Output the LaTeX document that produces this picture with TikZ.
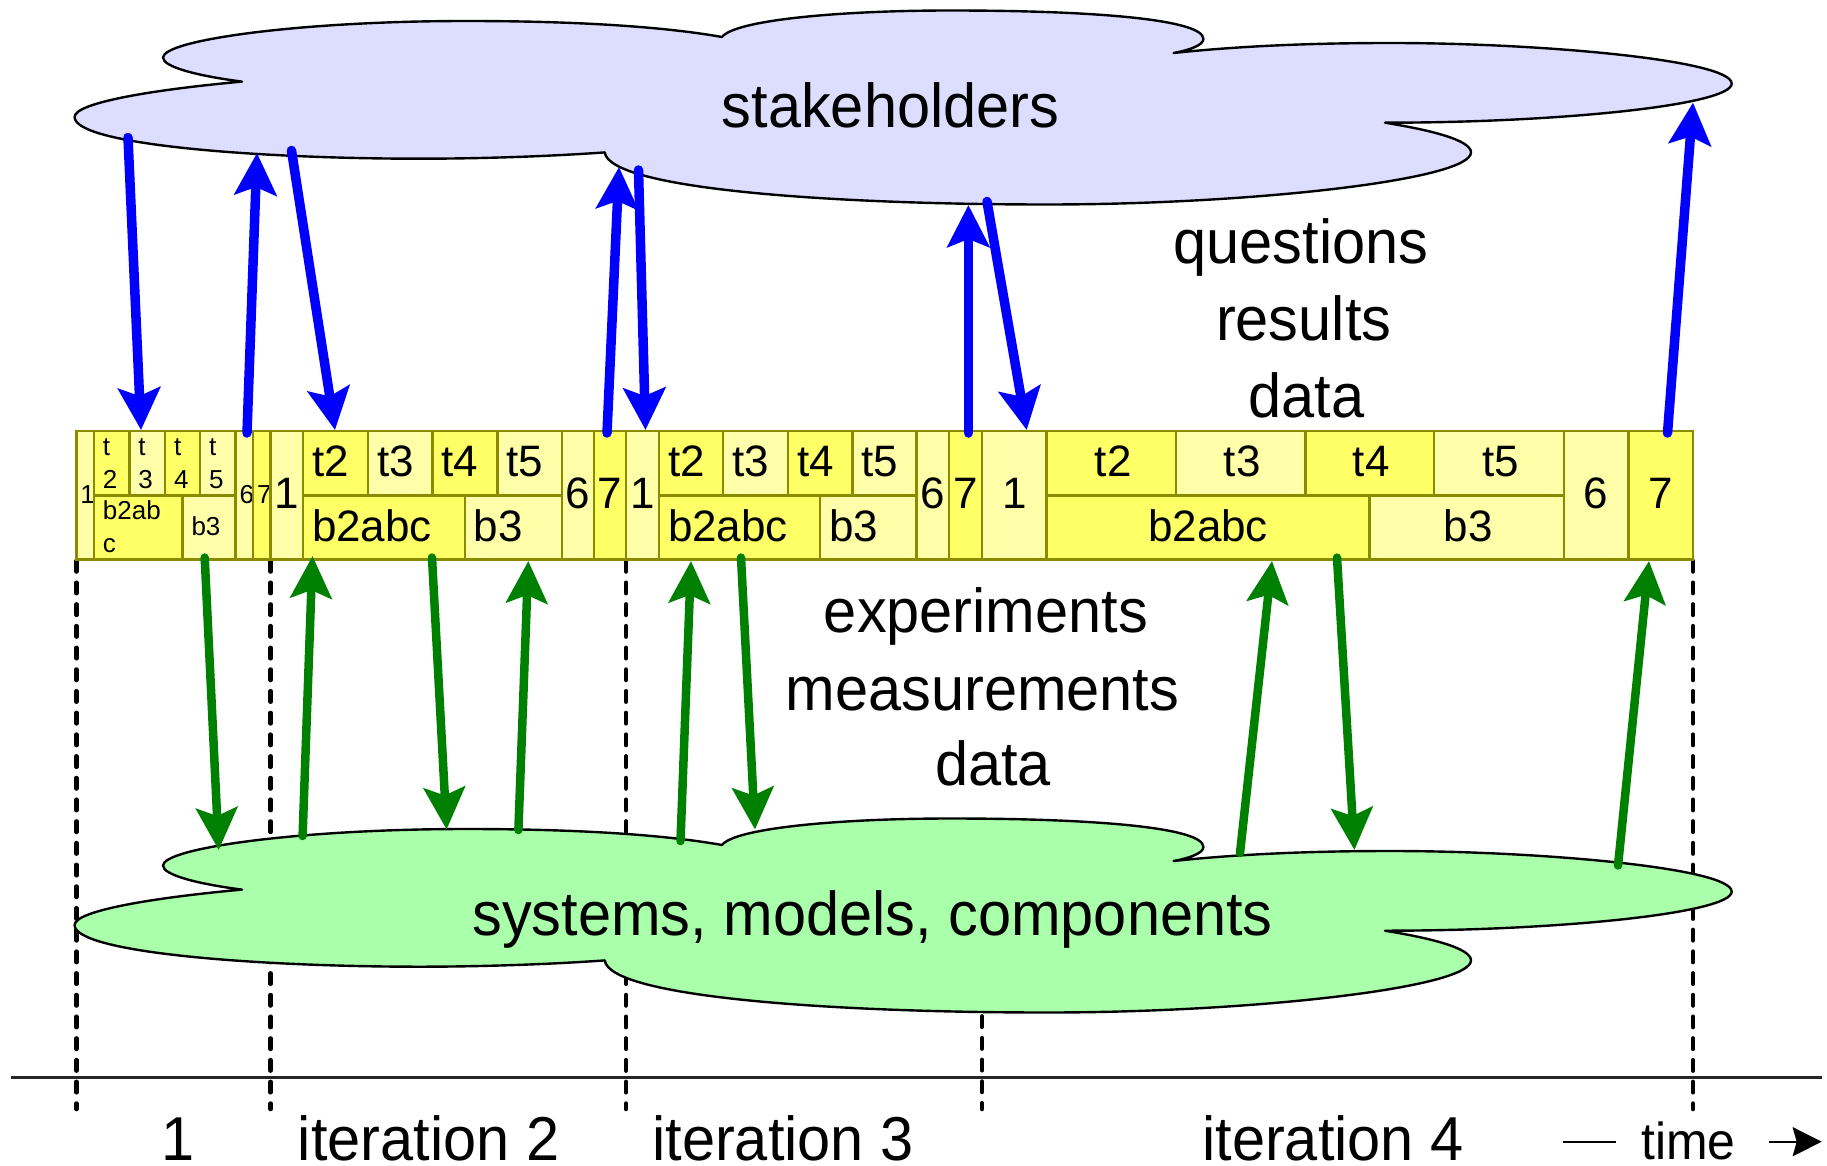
\documentclass[tikz,border=0pt]{standalone}
\usepackage{fontspec}
\usepackage{graphicx}
\setmainfont{Liberation Sans}
\usetikzlibrary{arrows.meta}
\definecolor{brightY}{HTML}{FFFF66}
\definecolor{paleY}{HTML}{FFFFAA}
\definecolor{cellLine}{HTML}{8B8B00}
\definecolor{cloudBlue}{HTML}{DDDDFF}
\definecolor{cloudGreen}{HTML}{AAFFAA}
\definecolor{arrBlue}{HTML}{0000FF}
\definecolor{arrGreen}{HTML}{008000}
\newcommand\narrow[1]{\scalebox{.96}[1]{#1}}
\newcommand\cloudpath{(242,81.6)
 .. controls (198,76) and (163,67) .. (163,57.6)
 .. controls (163,40) and (300,21) .. (466.5,21)
 .. controls (570,21) and (660,26) .. (722,37)
 .. controls (735,20) and (840,10.5) .. (950,10.5)
 .. controls (1100,10.5) and (1203.4,20) .. (1203.4,39)
 .. controls (1203.4,45) and (1190,50) .. (1173.6,53)
 .. controls (1230,47) and (1300,43) .. (1391,43)
 .. controls (1540,43) and (1731.7,60) .. (1731.7,83.6)
 .. controls (1731.7,105) and (1560,122.7) .. (1385,122.7)
 .. controls (1430,130) and (1471,140) .. (1471,152.4)
 .. controls (1471,180) and (1250,204.5) .. (1047,204.5)
 .. controls (840,204.5) and (610,190) .. (604.7,152.4)
 .. controls (540,157) and (470,158.7) .. (420,158.7)
 .. controls (260,158.7) and (74.6,145) .. (74.6,117)
 .. controls (74.6,103) and (150,90) .. (242,81.6) -- cycle}
% name, x0, x1, y0, y1, fill, text style, align, text
\newcommand\cell[9]{%
  \pgfmathsetlengthmacro\cellw{(#3)-(#2)-18}%
  \node[cellbox,fill=#6,#7,minimum width={((#3)-(#2))*1pt},minimum height={((#5)-(#4))*1pt}]
    (#1) at ({((#2)+(#3))/2},{((#4)+(#5))/2}) {\makebox[\cellw][#8]{#9}};}
\tikzset{
  cellbox/.style={draw=cellLine,line width=2.4pt,inner sep=0pt,outer sep=0pt},
  big/.style={font=\fontsize{44}{44}\selectfont,text height=30pt,text depth=3pt},
  tiny/.style={font=\fontsize{26}{33}\selectfont,text height=20pt,text depth=4pt},
  twoline/.style={font=\fontsize{26}{33}\selectfont,text height=2pt,text depth=18pt},
  cloudshape/.style={draw=black,line width=2.4pt,line join=round},
  label/.style={font=\fontsize{62}{62}\selectfont,anchor=base,inner sep=0pt},
  timefont/.style={font=\fontsize{52}{52}\selectfont,anchor=base,inner sep=0pt},
  bluearrow/.style={draw=arrBlue,line width=9.5pt,line cap=round,-{Stealth[length=42pt,width=42pt,inset=8pt,fill=arrBlue]}},
  greenarrow/.style={draw=arrGreen,line width=8.5pt,line cap=round,-{Stealth[length=42pt,width=41pt,inset=8pt,fill=arrGreen]}},
  dashline/.style={draw=black,line width=4.5pt,line cap=round,dash pattern=on 10.5pt off 11.2pt},
  axisline/.style={draw=black!85,line width=2.4pt},
  plainline/.style={draw=black,line width=2.4pt},
  timearrow/.style={draw=black,line width=2.4pt,-{Stealth[length=29pt,width=29pt,inset=4pt]}},
}
\begin{document}
\begin{tikzpicture}[x=1pt,y=-1pt]
\path[use as bounding box,fill=white] (0,0) rectangle (1827,1166);
% coordinates for free ends
\coordinate (axL) at (11,1077.4); \coordinate (axR) at (1822,1077.4);
\foreach \n/\x in {d1/76.4,d2/270.6,d3/626,d4/982,d5/1693}{\coordinate (\n) at (\x,1109);}
\coordinate (d1t) at (76.4,561); \coordinate (d2t) at (270.6,561);
\coordinate (d3t) at (626,561); \coordinate (d4t) at (982,929.6); \coordinate (d5t) at (1693,561);
% dashed iteration boundaries and axis
\draw[axisline] (axL) -- (axR);
\foreach \n in {d1,d2,d3,d4,d5}{\draw[dashline] (\n t) -- (\n);}
% clouds
\path[cloudshape,fill=cloudBlue] \cloudpath;
\begin{scope}[shift={(0,808)}]
\path[cloudshape,fill=cloudGreen] \cloudpath;
\end{scope}
% iteration 1
\cell{aA}{76.4}{93.9}{431}{559.5}{paleY}{tiny}{c}{\hspace{5pt}1}
\cell{aB}{93.9}{129.4}{431}{495.5}{brightY}{twoline}{l}{\vtop{\hbox{t}\hbox{2}}}
\cell{aC}{129.4}{165}{431}{495.5}{paleY}{twoline}{l}{\vtop{\hbox{t}\hbox{3}}}
\cell{aD}{165}{200}{431}{495.5}{brightY}{twoline}{l}{\vtop{\hbox{t}\hbox{4}}}
\cell{aE}{200}{235.6}{431}{495.5}{paleY}{twoline}{l}{\vtop{\hbox{t}\hbox{5}}}
\cell{aF}{93.9}{182.5}{495.5}{559.5}{brightY}{twoline}{l}{\vtop{\hbox{b2ab}\hbox{c}}}
\cell{aG}{182.5}{235.6}{495.5}{559.5}{paleY}{tiny}{l}{b3}
\cell{aH}{235.6}{253}{431}{559.5}{paleY}{tiny}{c}{\hspace{5pt}6}
\cell{aI}{253}{270.6}{431}{559.5}{brightY}{tiny}{c}{\hspace{5pt}7}
% iteration 2
\cell{bA}{270.6}{303}{431}{559.5}{paleY}{big}{c}{1}
\cell{bB}{303}{368}{431}{495.5}{brightY}{big}{l}{t2}
\cell{bC}{368}{432.6}{431}{495.5}{paleY}{big}{l}{t3}
\cell{bD}{432.6}{497.4}{431}{495.5}{brightY}{big}{l}{t4}
\cell{bE}{497.4}{562}{431}{495.5}{paleY}{big}{l}{t5}
\cell{bF}{303}{464.7}{495.5}{559.5}{brightY}{big}{l}{b2abc}
\cell{bG}{464.7}{562}{495.5}{559.5}{paleY}{big}{l}{b3}
\cell{bH}{562}{594}{431}{559.5}{paleY}{big}{c}{6}
\cell{bI}{594}{626}{431}{559.5}{brightY}{big}{c}{7}
% iteration 3
\cell{cA}{626}{659}{431}{559.5}{paleY}{big}{c}{1}
\cell{cB}{659}{723}{431}{495.5}{brightY}{big}{l}{t2}
\cell{cC}{723}{788}{431}{495.5}{paleY}{big}{l}{t3}
\cell{cD}{788}{852.5}{431}{495.5}{brightY}{big}{l}{t4}
\cell{cE}{852.5}{916.5}{431}{495.5}{paleY}{big}{l}{t5}
\cell{cF}{659}{820}{495.5}{559.5}{brightY}{big}{l}{b2abc}
\cell{cG}{820}{916.5}{495.5}{559.5}{paleY}{big}{l}{b3}
\cell{cH}{916.5}{949}{431}{559.5}{paleY}{big}{c}{6}
\cell{cI}{949}{982}{431}{559.5}{brightY}{big}{c}{7}
% iteration 4
\cell{eA}{982}{1046.5}{431}{559.5}{paleY}{big}{c}{1}
\cell{eB}{1046.5}{1176}{431}{495.5}{brightY}{big}{c}{\hspace{4pt}t2}
\cell{eC}{1176}{1305.4}{431}{495.5}{paleY}{big}{c}{\hspace{3pt}t3}
\cell{eD}{1305.4}{1434}{431}{495.5}{brightY}{big}{c}{\hspace{3pt}t4}
\cell{eE}{1434}{1563.7}{431}{495.5}{paleY}{big}{c}{\hspace{3pt}t5}
\cell{eF}{1046.5}{1369.6}{495.5}{559.5}{brightY}{big}{c}{b2abc}
\cell{eG}{1369.6}{1563.7}{495.5}{559.5}{paleY}{big}{c}{\hspace{3pt}b3}
\cell{eH}{1563.7}{1628.5}{431}{559.5}{paleY}{big}{c}{6}
\cell{eI}{1628.5}{1693}{431}{559.5}{brightY}{big}{c}{7}
% blue arrow ends
\coordinate (s1) at (128,137.5);   \coordinate (t1) at (141,430);
\coordinate (s2) at (247,433);     \coordinate (t2) at (257,153);
\coordinate (s3) at (291.5,150.5); \coordinate (t3) at (335,430);
\coordinate (s4) at (607,433);     \coordinate (t4) at (619,167);
\coordinate (s5) at (638.5,170);   \coordinate (t5) at (645.5,430);
\coordinate (s6) at (968.4,433);   \coordinate (t6) at (968.4,205);
\coordinate (s7) at (987,201.5);   \coordinate (t7) at (1026.7,430);
\coordinate (s8) at (1667.5,433);  \coordinate (t8) at (1693,102.6);
\foreach \i in {1,...,8}{\draw[bluearrow] (s\i) -- (t\i);}
% green arrow ends
\coordinate (u1) at (204.7,557.6); \coordinate (v1) at (218.7,850);
\coordinate (u2) at (302.6,836);   \coordinate (v2) at (312.5,556);
\coordinate (u3) at (432,557.6);   \coordinate (v3) at (446.6,829.5);
\coordinate (u4) at (518.4,830);   \coordinate (v4) at (528.3,561);
\coordinate (u5) at (680.5,841);   \coordinate (v5) at (691,561);
\coordinate (u6) at (741,557.6);   \coordinate (v6) at (755,829.5);
\coordinate (u7) at (1240,853);    \coordinate (v7) at (1272,561);
\coordinate (u8) at (1337,557.6);  \coordinate (v8) at (1354.4,850);
\coordinate (u9) at (1618,865.5);  \coordinate (v9) at (1649,561);
\foreach \i in {1,...,9}{\draw[greenarrow] (u\i) -- (v\i);}
% labels
\node[label] (stake) at (890.5,127.4) {\narrow{stakeholders}};
\node[label] (qu) at (1300.8,264) {\narrow{questions}};
\node[label] (re) at (1303.7,340) {\narrow{results}};
\node[label] (da) at (1306.6,417.4) {\narrow{data}};
\node[label] (ex) at (986,632) {\narrow{experiments}};
\node[label] (me) at (982.5,710.4) {\narrow{measurements}};
\node[label] (db) at (993,785.5) {\narrow{data}};
\node[label] (sy) at (872.5,935.3) {\narrow{systems, models, components}};
\node[label] (it1) at (178,1160) {\narrow{1}};
\node[label] (it2) at (428.6,1160) {\narrow{iteration 2}};
\node[label] (it3) at (783,1160) {\narrow{iteration 3}};
\node[label] (it4) at (1333,1160) {\narrow{iteration 4}};
\node[timefont] (tm) at (1688.5,1159) {\narrow{time}};
\coordinate (ta) at (1563,1141.7); \coordinate (tb) at (1616,1141.7);
\coordinate (tc) at (1769,1141.7); \coordinate (td) at (1821.7,1141.7);
\draw[plainline] (ta) -- (tb);
\draw[timearrow] (tc) -- (td);
\end{tikzpicture}
\end{document}
